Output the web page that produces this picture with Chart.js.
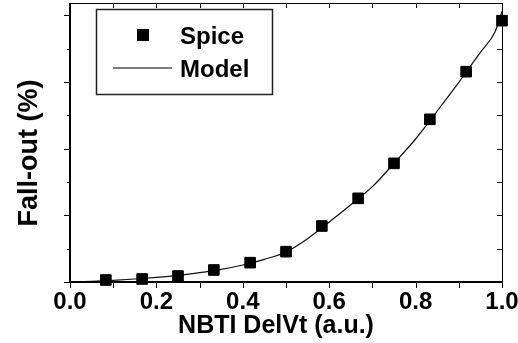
<!DOCTYPE html>
<html>
<head>
<meta charset="utf-8">
<script src="https://cdn.jsdelivr.net/npm/chart.js@4/dist/chart.umd.min.js"></script>
<style>
html,body{margin:0;padding:0;background:#fff;}
#wrap{width:518px;height:343px;position:relative;}
</style>
</head>
<body>
<div id="wrap"><canvas id="c" width="518" height="343"></canvas></div>
<script>
// ---- data ----
const spiceX = [0.083, 0.167, 0.25, 0.333, 0.417, 0.5, 0.583, 0.667, 0.75, 0.833, 0.917, 1.0];
const spiceY = [0.03, 0.045, 0.09, 0.18, 0.29, 0.455, 0.84, 1.255, 1.78, 2.44, 3.155, 3.92];
const modelX = [0, 0.05, 0.1, 0.15, 0.2, 0.25, 0.3, 0.35, 0.4, 0.45, 0.5, 0.55, 0.6, 0.65, 0.7, 0.75, 0.8, 0.85, 0.9, 0.95, 0.984, 1.0];
const modelY = [0, 0.01, 0.025, 0.045, 0.07, 0.1, 0.14, 0.19, 0.255, 0.34, 0.45, 0.65, 0.9, 1.16, 1.43, 1.78, 2.145, 2.565, 2.995, 3.445, 3.755, 4.06];
const xMajorTicks = [0, 0.2, 0.4, 0.6, 0.8, 1.0];
const xMinorTicks = [0.1, 0.3, 0.5, 0.7, 0.9];
const yMajorTicks = [0, 1, 2, 3, 4];
const yMinorTicks = [0.5, 1.5, 2.5, 3.5];
const seriesNames = ['Spice', 'Model'];
const xTitle = 'NBTI DelVt (a.u.)';
const yTitle = 'Fall-out (%)';

const FONT = "'Liberation Sans', Arial, Helvetica, sans-serif";

const framePlugin = {
  id: 'frame',
  afterDraw(chart) {
    const ctx = chart.ctx;
    const a = chart.chartArea;
    const xs = chart.scales.x, ys = chart.scales.y;
    ctx.save();
    ctx.strokeStyle = '#000';
    ctx.lineWidth = 2;
    ctx.beginPath();
    ctx.moveTo(a.left, a.top); ctx.lineTo(a.left, a.bottom + 1);
    ctx.moveTo(a.left - 1, a.bottom); ctx.lineTo(a.right + 1, a.bottom);
    ctx.stroke();
    ctx.lineWidth = 1;
    ctx.beginPath();
    ctx.moveTo(a.left, a.top + 0.5); ctx.lineTo(a.right, a.top + 0.5);
    ctx.moveTo(a.right + 0.5, a.top); ctx.lineTo(a.right + 0.5, a.bottom);
    ctx.stroke();
    ctx.lineWidth = 1;
    ctx.beginPath();
    xMajorTicks.concat(xMinorTicks).forEach(v => {
      const px = Math.round(xs.getPixelForValue(v)) + 0.5;
      ctx.moveTo(px, a.bottom); ctx.lineTo(px, a.bottom + 6);
      ctx.moveTo(px, a.top); ctx.lineTo(px, a.top + 5);
    });
    yMajorTicks.forEach(v => {
      const py = Math.round(ys.getPixelForValue(v)) + 0.5;
      ctx.moveTo(a.left, py); ctx.lineTo(a.left - 6, py);
      ctx.moveTo(a.right, py); ctx.lineTo(a.right - 5, py);
    });
    yMinorTicks.forEach(v => {
      const py = Math.round(ys.getPixelForValue(v)) + 0.5;
      ctx.moveTo(a.left, py); ctx.lineTo(a.left - 3, py);
      ctx.moveTo(a.right, py); ctx.lineTo(a.right - 5, py);
    });
    ctx.stroke();

    // axis titles
    ctx.fillStyle = '#000';
    ctx.textBaseline = 'alphabetic';
    ctx.textAlign = 'center';
    ctx.font = 'bold 25px ' + FONT;
    ctx.fillText(xTitle, 276, 332.5);
    ctx.save();
    ctx.translate(36.5, 153);
    ctx.rotate(-Math.PI / 2);
    ctx.font = 'bold 27px ' + FONT;
    ctx.fillText(yTitle, 0, 0);
    ctx.restore();

    // legend box
    ctx.lineWidth = 1.5;
    ctx.strokeStyle = '#222';
    ctx.strokeRect(96.5, 9.5, 176, 85);
    ctx.fillStyle = '#000';
    ctx.fillRect(137, 29, 12, 12);
    ctx.lineWidth = 1;
    ctx.strokeStyle = '#000';
    ctx.beginPath();
    ctx.moveTo(113, 68); ctx.lineTo(172, 68);
    ctx.stroke();
    ctx.font = 'bold 24px ' + FONT;
    ctx.textBaseline = 'alphabetic';
    ctx.textAlign = 'left';
    ctx.fillText(chart.data.datasets[0].label, 180, 43.5);
    ctx.fillText(chart.data.datasets[1].label, 180, 76.5);
    ctx.restore();
  }
};

new Chart(document.getElementById('c'), {
  type: 'scatter',
  data: {
    datasets: [
      {
        label: seriesNames[0],
        data: spiceX.map((x, i) => ({x: x, y: spiceY[i]})),
        showLine: false,
        pointStyle: 'rect',
        pointRadius: 7.5,
        pointBorderWidth: 1,
        backgroundColor: '#000',
        borderColor: '#000',
        clip: false
      },
      {
        label: seriesNames[1],
        data: modelX.map((x, i) => ({x: x, y: modelY[i]})),
        showLine: true,
        pointRadius: 0,
        borderColor: '#111',
        borderWidth: 1.2,
        cubicInterpolationMode: 'monotone',
        fill: false
      }
    ]
  },
  options: {
    responsive: false,
    animation: false,
    devicePixelRatio: 1,
    layout: { autoPadding: false, padding: { top: 3, right: 16, left: 0, bottom: 0 } },
    plugins: { legend: { display: false }, tooltip: { enabled: false } },
    scales: {
      x: {
        type: 'linear', min: 0, max: 1,
        grid: { display: false, drawTicks: false },
        border: { display: false },
        ticks: {
          stepSize: 0.2, color: '#000', padding: 6, maxRotation: 0, autoSkip: false,
          font: { family: FONT, weight: 'bold', size: 24 },
          callback: v => v.toFixed(1)
        },
        afterBuildTicks: s => { s.ticks = xMajorTicks.map(v => ({value: v})); },
        title: { display: false, text: xTitle },
        afterFit: s => { s.height = 61; s.paddingLeft = 0; s.paddingRight = 0; }
      },
      y: {
        type: 'linear', min: 0, max: 4.185,
        grid: { display: false, drawTicks: false },
        border: { display: false },
        ticks: { display: false },
        title: { display: false, text: yTitle },
        afterFit: s => { s.width = 70; s.paddingTop = 0; s.paddingBottom = 0; }
      }
    }
  },
  plugins: [framePlugin]
});
</script>
</body>
</html>
